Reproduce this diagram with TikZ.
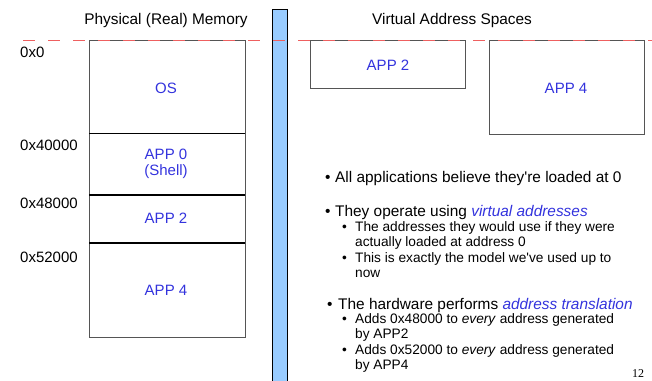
\documentclass[tikz,border=0pt]{standalone}
\usepackage{fontspec}
\setmainfont{Liberation Sans}
\newfontfamily\arialplain{Liberation Sans}
\newfontfamily\serifnum{Liberation Serif}
\definecolor{lblblue}{RGB}{51,51,221}
\definecolor{dashred}{RGB}{238,96,96}
\definecolor{barblue}{RGB}{153,204,255}
\definecolor{boxgray}{RGB}{85,85,85}
\begin{document}
\begin{tikzpicture}[x=1pt,y=-1pt,
  memlbl/.style={inner sep=0pt,text=lblblue,font=\arialplain\fontsize{15}{17}\selectfont,align=center},
  addr/.style={inner sep=0pt,anchor=west,font=\arialplain\fontsize{15}{17}\selectfont},
  title/.style={inner sep=0pt,font=\arialplain\fontsize{15.4}{17}\selectfont},
  bigtxt/.style={inner sep=0pt,anchor=base west,font=\arialplain\fontsize{15.4}{17}\selectfont},
  smalltxt/.style={inner sep=0pt,anchor=base west,font=\arialplain\fontsize{13.7}{15}\selectfont},
  memframe/.style={draw=boxgray,line width=0.9pt},
  hl/.style={text=lblblue}]
\useasboundingbox (0,0) rectangle (652,380);
% physical memory
\node[memframe,minimum width=156pt,minimum height=297pt,inner sep=0pt,anchor=north west] (phys) at (89,40) {};
\coordinate (d1l) at (89,133); \coordinate (d1r) at (245,133);
\coordinate (d2l) at (89,195); \coordinate (d2r) at (245,195);
\coordinate (d3l) at (89,243); \coordinate (d3r) at (245,243);
\draw[line width=0.9pt] (d1l) -- (d1r);
\draw[line width=1.6pt] (d2l) -- (d2r);
\draw[line width=1.6pt] (d3l) -- (d3r);
\node[memlbl] (os) at (166,88) {OS};
\node[memlbl] (app0) at (166,164) {APP 0\\[-1pt](Shell)};
\node[memlbl] (app2) at (166,218) {APP 2};
\node[memlbl] (app4) at (166,290) {APP 4};
\node[title] (ptitle) at (166,21) {Physical (Real) Memory};
\node[addr] (a0) at (20,52) {0x0};
\node[addr] (a1) at (20,145) {0x40000};
\node[addr] (a2) at (20,203) {0x48000};
\node[addr] (a3) at (20,257) {0x52000};
% blue bar
\node[draw=black,fill=barblue,line width=0.9pt,minimum width=15pt,minimum height=380pt,inner sep=0pt,anchor=north west] (bar) at (272,9) {};
% virtual
\node[title] (vtitle) at (452,21) {Virtual Address Spaces};
\node[memframe,minimum width=155pt,minimum height=48pt,inner sep=0pt,anchor=north west] (v2) at (310,40) {};
\node[memframe,minimum width=155pt,minimum height=94pt,inner sep=0pt,anchor=north west] (v4) at (489,40) {};
\node[memlbl] (v2l) at (388,65) {APP 2};
\node[memlbl] (v4l) at (566,88) {APP 4};
% dashed line
\coordinate (dashs) at (23,40); \coordinate (dashe) at (652,40);
\draw[dashred,line width=1pt,dash pattern=on 12pt off 13pt] (dashs) -- (dashe);
% bullets
\node[bigtxt] (b1d) at (325,182) {•};
\node[bigtxt] (b1) at (335,182) {All applications believe they're loaded at 0};
\node[bigtxt] (b2d) at (325,216) {•};
\node[bigtxt] (b2) at (335,216) {They operate using \textcolor{lblblue}{\itshape virtual addresses}};
\node[smalltxt] (s1d) at (342,231.5) {•};
\node[smalltxt] (s1) at (355,231.5) {The addresses they would use if they were};
\node[smalltxt] (s1b) at (355,246.5) {actually loaded at address 0};
\node[smalltxt] (s2d) at (342,262.5) {•};
\node[smalltxt] (s2) at (355,262.5) {This is exactly the model we've used up to};
\node[smalltxt] (s2b) at (355,277.5) {now};
\node[bigtxt] (b3d) at (327,309) {•};
\node[bigtxt] (b3) at (338,309) {The hardware performs \textcolor{lblblue}{\itshape address translation}};
\node[smalltxt] (s3d) at (342,323.5) {•};
\node[smalltxt] (s3) at (355,323.5) {Adds 0x48000 to \textit{every} address generated};
\node[smalltxt] (s3b) at (355,338.5) {by APP2};
\node[smalltxt] (s4d) at (342,354.5) {•};
\node[smalltxt] (s4) at (355,354.5) {Adds 0x52000 to \textit{every} address generated};
\node[smalltxt] (s4b) at (355,369.5) {by APP4};
\node[inner sep=0pt,anchor=base west,font=\serifnum\fontsize{12}{13}\selectfont] (pg) at (632,377) {12};
\end{tikzpicture}
\end{document}
